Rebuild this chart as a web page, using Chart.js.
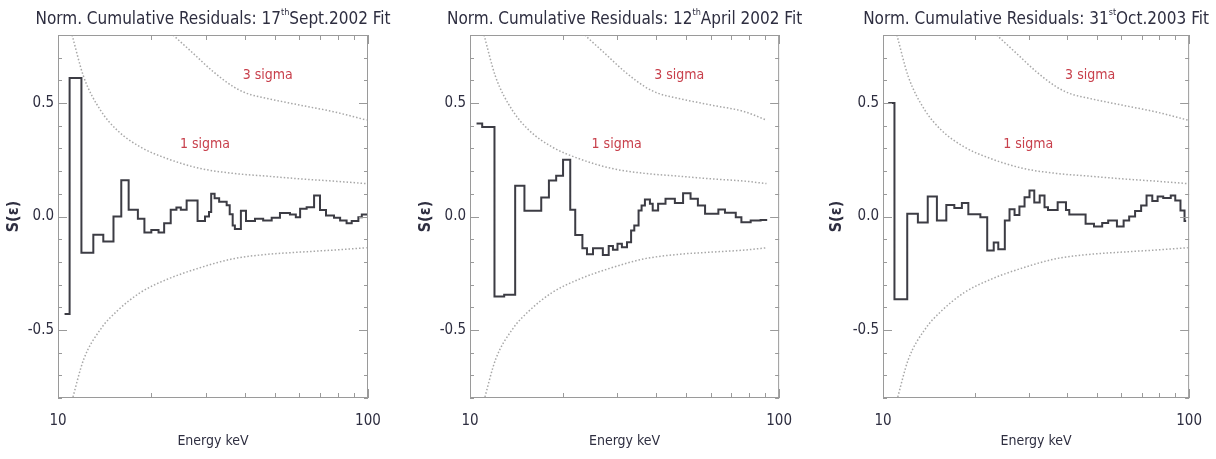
<!DOCTYPE html>
<html>
<head>
<meta charset="utf-8">
<script src="https://cdn.jsdelivr.net/npm/chart.js@4.4.1/dist/chart.umd.min.js"></script>
<style>
  body { margin: 0; background: #fff; width: 1216px; height: 459px; overflow: hidden; position: relative; }
  canvas { position: absolute; top: 0; }
</style>
</head>
<body>
<canvas id="sept" width="400" height="459" style="left:0px"></canvas>
<canvas id="april" width="406" height="459" style="left:400px"></canvas>
<canvas id="oct" width="410" height="459" style="left:806px"></canvas>
<script>
// bin edges (keV) and normalised cumulative residuals
const edgesSept = [10.5, 10.9, 11.9, 13.0, 14.0, 15.1, 16.0, 16.9, 18.1, 19.0, 20.0, 21.1, 22.0, 23.1, 24.1, 24.9, 26.0, 28.2, 29.8, 30.7, 31.2, 32.0, 33.1, 35.0, 35.8, 36.6, 37.2, 38.9, 40.4, 43.2, 45.9, 48.9, 52.0, 56.0, 58.5, 60.4, 63.4, 67.0, 70.0, 73.2, 77.7, 81.3, 85.3, 88.6, 93.1, 95.5, 99.5];
const resSept = [-0.43, 0.61, -0.16, -0.08, -0.11, 0.0, 0.16, 0.03, -0.01, -0.07, -0.06, -0.07, -0.03, 0.03, 0.04, 0.03, 0.07, -0.02, 0.0, 0.02, 0.10, 0.08, 0.065, 0.05, 0.01, -0.04, -0.055, 0.025, -0.02, -0.01, -0.018, -0.006, 0.015, 0.009, -0.003, 0.034, 0.041, 0.093, 0.029, 0.004, -0.006, -0.018, -0.03, -0.02, -0.003, 0.009];

const edgesApril = [10.5, 10.95, 12.0, 12.9, 14.0, 15.0, 17.0, 18.0, 19.0, 20.0, 21.1, 21.9, 23.1, 23.9, 25.0, 26.9, 28.1, 29.0, 30.0, 31.0, 32.2, 33.2, 34.0, 35.1, 35.9, 36.8, 38.2, 39.0, 40.6, 42.9, 46.0, 48.9, 51.7, 54.6, 57.6, 63.6, 66.8, 72.4, 75.5, 80.9, 87.1, 91.5];
const resApril = [0.41, 0.394, -0.353, -0.345, 0.135, 0.025, 0.084, 0.159, 0.18, 0.25, 0.03, -0.082, -0.14, -0.166, -0.14, -0.17, -0.13, -0.147, -0.12, -0.135, -0.113, -0.062, -0.04, 0.026, 0.049, 0.075, 0.056, 0.026, 0.056, 0.078, 0.059, 0.103, 0.078, 0.049, 0.012, 0.031, 0.016, -0.003, -0.025, -0.018, -0.015];

const edgesOct = [10.4, 10.9, 12.0, 13.0, 14.0, 15.0, 16.1, 17.1, 18.1, 19.0, 20.8, 21.9, 23.0, 23.8, 25.0, 25.9, 26.9, 27.9, 29.0, 30.1, 31.2, 32.5, 33.7, 34.6, 37.2, 39.6, 40.6, 45.9, 48.9, 52.0, 54.4, 58.1, 61.1, 63.7, 66.6, 69.7, 72.6, 75.8, 78.9, 82.3, 87.1, 90.1, 93.7, 96.6, 97.8];
const resOct = [0.5, -0.365, 0.012, -0.026, 0.088, -0.018, 0.051, 0.037, 0.059, 0.01, -0.003, -0.15, -0.115, -0.144, -0.018, 0.032, 0.007, 0.044, 0.085, 0.115, 0.062, 0.093, 0.041, 0.029, 0.063, 0.029, 0.009, -0.032, -0.044, -0.029, -0.018, -0.044, -0.018, 0.0, 0.024, 0.049, 0.093, 0.068, 0.088, 0.082, 0.093, 0.07, 0.026, -0.02];

// confidence bands (last energy is replaced by each panel's end energy)
const sigmaE = [11.1, 12.1, 13.7, 15.5, 18.4, 22.4, 28.7, 36.8, 47.1, 60.3, 77.3, 99];
const oneSigmaUp = [0.8, 0.616, 0.469, 0.381, 0.307, 0.256, 0.212, 0.19, 0.178, 0.166, 0.156, 0.145];
const oneSigmaLow = [-0.81, -0.63, -0.498, -0.417, -0.336, -0.278, -0.226, -0.186, -0.167, -0.157, -0.148, -0.138];
const threeSigmaE = [23.5, 27.3, 31.7, 36.8, 40.6, 47.1, 60.3, 77.3, 99];
const threeSigmaUp = [0.8, 0.719, 0.638, 0.572, 0.543, 0.521, 0.491, 0.462, 0.425];

const xTickLabels = [10, 100];
const yTickLabels = [-0.5, 0.0, 0.5];
const sigmaLabels = [{ text: '3 sigma', e: 47.5, v: 0.62 }, { text: '1 sigma', e: 29.8, v: 0.32 }];

const textColor = '#2e2e40';
const frameColor = '#9a9a9a';
const FONT = "'Liberation Sans Narrow', 'DejaVu Sans Condensed', 'Liberation Sans', sans-serif";

Chart.defaults.font.family = FONT;
Chart.defaults.color = textColor;

const panels = [
    { id: 'sept', edges: edgesSept, values: resSept, sigmaEnd: 99, title: ['Norm. Cumulative Residuals: 17', 'th', 'Sept.2002 Fit'], areaLeft: 58, areaRight: 368, padLeft: 1 },
    { id: 'april', edges: edgesApril, values: resApril, sigmaEnd: 91, title: ['Norm. Cumulative Residuals: 12', 'th', 'April 2002 Fit'], areaLeft: 70, areaRight: 382, padLeft: 13 },
    { id: 'oct', edges: edgesOct, values: resOct, sigmaEnd: 99, title: ['Norm. Cumulative Residuals: 31', 'st', 'Oct.2003 Fit'], areaLeft: 77, areaRight: 387, padLeft: 18 },
];

const near = (a, b) => Math.abs(a - b) < 1e-6;

const toPoints = (xs, ys, lastX) => xs.map((x, i) => ({ x: (i === xs.length - 1 && lastX) ? lastX : x, y: ys[i] }));

const stepPoints = (edges, values) => edges.map((e, i) => ({ x: e, y: values[Math.min(i, values.length - 1)] }));

// box, inward ticks, sigma labels and the title
const framePlugin = {
    id: 'frame',
    afterDatasetsDraw(chart, args, opts) {
        const { ctx, chartArea: a, scales: { x, y } } = chart;
        ctx.save();
        ctx.strokeStyle = frameColor;
        ctx.lineWidth = 1;
        ctx.strokeRect(a.left + 0.5, a.top + 0.5, a.right - a.left - 1, a.bottom - a.top - 1);
        ctx.beginPath();
        // only the decade multiples 10, 20, ... 100 get a mark
        x.ticks.filter((t) => near(t.value / 10, Math.round(t.value / 10))).forEach((t) => {
            const px = Math.round(x.getPixelForValue(t.value)) + 0.5;
            const len = xTickLabels.some((m) => near(m, t.value)) ? 9 : 5;
            ctx.moveTo(px, a.bottom); ctx.lineTo(px, a.bottom - len);
            ctx.moveTo(px, a.top); ctx.lineTo(px, a.top + len);
        });
        y.ticks.forEach((t) => {
            const py = Math.round(y.getPixelForValue(t.value)) + 0.5;
            const len = yTickLabels.some((m) => near(m, t.value)) ? 9 : 4;
            ctx.moveTo(a.left, py); ctx.lineTo(a.left + len, py);
            ctx.moveTo(a.right, py); ctx.lineTo(a.right - len, py);
        });
        ctx.stroke();

        ctx.fillStyle = '#c8404c';
        ctx.font = `14px ${FONT}`;
        ctx.textAlign = 'center';
        ctx.textBaseline = 'middle';
        sigmaLabels.forEach((s) => {
            ctx.fillText(s.text, x.getPixelForValue(s.e), y.getPixelForValue(s.v));
        });

        // title with a small raised suffix on the day
        const [pre, sup, post] = opts.title;
        const big = `17px ${FONT}`;
        const small = `9px ${FONT}`;
        ctx.font = big; const w1 = ctx.measureText(pre).width; const w3 = ctx.measureText(post).width;
        ctx.font = small; const w2 = ctx.measureText(sup).width;
        let tx = (a.left + a.right) / 2 - (w1 + w2 + w3) / 2;
        ctx.fillStyle = textColor;
        ctx.textAlign = 'left';
        ctx.textBaseline = 'alphabetic';
        ctx.font = big; ctx.fillText(pre, tx, 24); tx += w1;
        ctx.font = small; ctx.fillText(sup, tx, 15); tx += w2;
        ctx.font = big; ctx.fillText(post, tx, 24);
        ctx.restore();
    },
};

panels.forEach((p) => {
    const canvas = document.getElementById(p.id);
    const W = canvas.width;
    new Chart(canvas.getContext('2d'), {
        type: 'line',
        data: {
            datasets: [
                {
                    data: toPoints(sigmaE, oneSigmaUp, p.sigmaEnd),
                    borderColor: '#a8a8a8', borderWidth: 1.5, borderDash: [1.5, 2],
                    cubicInterpolationMode: 'monotone', pointRadius: 0,
                },
                {
                    data: toPoints(sigmaE, oneSigmaLow, p.sigmaEnd),
                    borderColor: '#a8a8a8', borderWidth: 1.5, borderDash: [1.5, 2],
                    cubicInterpolationMode: 'monotone', pointRadius: 0,
                },
                {
                    data: toPoints(threeSigmaE, threeSigmaUp, p.sigmaEnd),
                    borderColor: '#a8a8a8', borderWidth: 1.5, borderDash: [1.5, 2],
                    cubicInterpolationMode: 'monotone', pointRadius: 0,
                },
                {
                    data: stepPoints(p.edges, p.values),
                    borderColor: '#3c3c44', borderWidth: 2, stepped: true, pointRadius: 0,
                },
            ],
        },
        options: {
            responsive: false,
            animation: false,
            events: [],
            layout: { padding: { left: p.padLeft, right: W - p.areaRight, top: 35, bottom: 0 } },
            plugins: {
                legend: { display: false },
                tooltip: { enabled: false },
                frame: { title: p.title },
            },
            scales: {
                x: {
                    type: 'logarithmic',
                    min: 10,
                    max: 100,
                    grid: { display: false, drawTicks: false },
                    border: { display: false },
                    ticks: {
                        autoSkip: false, maxRotation: 0, padding: 14,
                        font: { size: 15 }, color: textColor,
                        callback: (v) => (xTickLabels.some((m) => near(m, v)) ? String(Math.round(v)) : ''),
                    },
                    title: { display: true, text: 'Energy keV', font: { size: 14 }, color: textColor, padding: { top: 4, bottom: 9 } },
                    afterFit: (s) => { s.height = 61; },
                },
                y: {
                    min: -0.8,
                    max: 0.8,
                    grid: { display: false, drawTicks: false },
                    border: { display: false },
                    ticks: {
                        stepSize: 0.1, autoSkip: false, padding: 4,
                        font: { size: 15 }, color: textColor,
                        callback: (v) => {
                            const m = yTickLabels.find((t) => near(t, v));
                            return m === undefined ? '' : (near(m, 0) ? '0.0' : m.toFixed(1));
                        },
                    },
                    title: { display: true, text: 'S(ε)', font: { size: 16, weight: 'bold' }, color: textColor, padding: { top: 3, bottom: 4 } },
                    afterFit: (s) => { s.width = p.areaLeft - p.padLeft; },
                },
            },
        },
        plugins: [framePlugin],
    });
});
</script>
</body>
</html>
